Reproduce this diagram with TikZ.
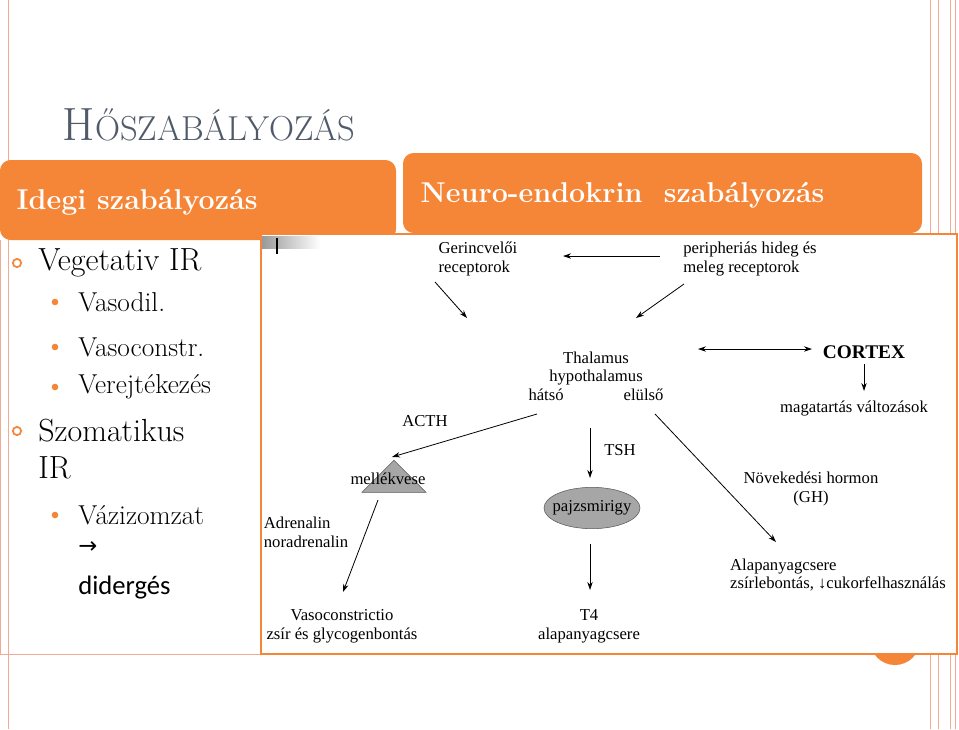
\documentclass[tikz,border=0pt]{standalone}
\usepackage{fontspec}
\newfontfamily\tmsfont{Liberation Serif}
\newfontfamily\carlfont{Carlito}
\newfontfamily\dejafont{DejaVu Sans}
\usetikzlibrary{shapes.geometric,arrows.meta}
\definecolor{org}{RGB}{245,133,55}
\definecolor{pinkl}{RGB}{240,170,150}
\definecolor{ttl}{RGB}{80,90,105}
\begin{document}
\begin{tikzpicture}[x=0.75pt,y=-0.75pt,
  dt/.style={font=\tmsfont\fontsize{12.5}{14}\selectfont,align=center,inner sep=1pt},
  arr/.style={-{Stealth[length=6pt,width=4pt]},line width=0.6pt},
  bar/.style={fill=org,draw=none,rounded corners=8pt},
  bl/.style={font=\fontsize{24}{28}\selectfont,anchor=west,inner sep=0pt},
  sb/.style={font=\fontsize{20.5}{24}\selectfont,anchor=west,inner sep=0pt}]
\useasboundingbox (0,0) rectangle (959,729);
\fill[white] (0,0) rectangle (959,729);
% slide frame lines
\draw[pinkl] (8,0) -- (8,729);
\draw[pinkl] (930,0) -- (930,729);
\draw[pinkl] (938,0) -- (938,729);
\draw[pinkl] (950,0) -- (950,729);
\draw[pinkl] (955,0) -- (955,729);
\fill[org] (895,640) circle (25);
% title
\node[anchor=west,text=ttl,font=\fontsize{35}{40}\selectfont] (title) at (58,125) {H\fontsize{26}{30}\selectfont ŐSZABÁLYOZÁS};
% bars
\fill[bar] (0,160) rectangle (396,240);
\node[anchor=west,text=white,font=\bfseries\fontsize{21.5}{25}\selectfont] (idegi) at (12,202) {Idegi szabályozás};
\fill[bar] (403,153) rectangle (922,233);
\node[anchor=west,text=white,font=\bfseries\fontsize{21.5}{25}\selectfont] (neuro) at (416,195) {Neuro-endokrin\ \ szabályozás};
% left list
\draw[pinkl] (0,240) -- (0,654) -- (261,654);
\node[draw=org,circle,inner sep=2.2pt,line width=1.3pt] (b1) at (17,263) {};
\node[bl] (t1) at (38,263) {Vegetativ IR};
\foreach \yy/\tx in {302/Vasodil.,347/Vasoconstr.,387/Verejtékezés}{
  \fill[org] (55,\yy) circle (3.3);
  \node[sb] at (78,\yy) {\tx};}
\node[draw=org,circle,inner sep=2.2pt,line width=1.3pt] (b2) at (17,431) {};
\node[bl] (t2) at (38,431) {Szomatikus};
\node[bl] (t3) at (38,468) {IR};
\fill[org] (55,515) circle (3.3);
\node[sb] (t4) at (78,515) {Vázizomzat};
\node[bl,font=\dejafont\fontsize{17}{20}\selectfont] (t5) at (78,548) {→};
\node[bl,font=\carlfont\fontsize{20}{24}\selectfont] (t6) at (78,588) {didergés};
% diagram box
\draw[org,line width=1pt,fill=white] (261,234) rectangle (957,654);
\shade[left color=gray!80,right color=white] (262,236) rectangle (320,248);
\draw[line width=2pt] (277,238) -- (277,254);
% diagram nodes
\node[dt,align=left] (ger) at (478,259) {Gerincvelői\\receptorok};
\node[dt,align=left] (per) at (750,259) {peripheriás hideg és\\meleg receptorok};
\node[dt] (thal) at (596,376) {Thalamus\\hypothalamus\\hátsó\hspace{3.6em}elülső};
\node[dt,font=\tmsfont\bfseries\fontsize{14.5}{17}\selectfont] (cor) at (864,352) {CORTEX};
\node[dt] (mag) at (854,408) {magatartás változások};
\node[dt] (acth) at (425,421) {ACTH};
\node[dt] (tsh) at (620,450) {TSH};
\node[isosceles triangle,shape border rotate=90,isosceles triangle apex angle=90,fill=gray!70,draw=gray!70!black,minimum height=24pt,inner sep=0pt] (tri) at (394,479) {};
\node[dt] (mell) at (388,479) {mellékvese};
\node[ellipse,fill=gray!70,draw=gray!70!black,minimum width=72pt,minimum height=31pt,inner sep=0pt] (paj) at (592,508) {};
\node[dt] at (paj) {pajzsmirigy};
\node[dt] (gh) at (811,489) {Növekedési hormon\\(GH)};
\node[dt,align=left] (adr) at (306,532) {Adrenalin\\noradrenalin};
\node[dt,align=left] (alap) at (838,575) {Alapanyagcsere\\zsírlebontás, ↓cukorfelhasználás};
\node[dt] (vaso) at (342,626) {Vasoconstrictio\\zsír és glycogenbontás};
\node[dt] (t4n) at (589,626) {T4\\alapanyagcsere};
% arrows
\draw[arr] (660,256) -- (563,256);
\draw[arr] (435,282) -- (467,318);
\draw[arr] (684,284) -- (636,318);
\draw[arr,{Stealth[length=6pt,width=4pt]}-{Stealth[length=6pt,width=4pt]}] (698,349) -- (812,349);
\draw[arr] (864,364) -- (864,391);
\draw[arr] (537,414) -- (392,457);
\draw[arr] (590,428) -- (590,478);
\draw[arr] (655,414) -- (776,542);
\draw[arr] (378,500) -- (343,592);
\draw[arr] (590,544) -- (590,590);
\end{tikzpicture}
\end{document}
